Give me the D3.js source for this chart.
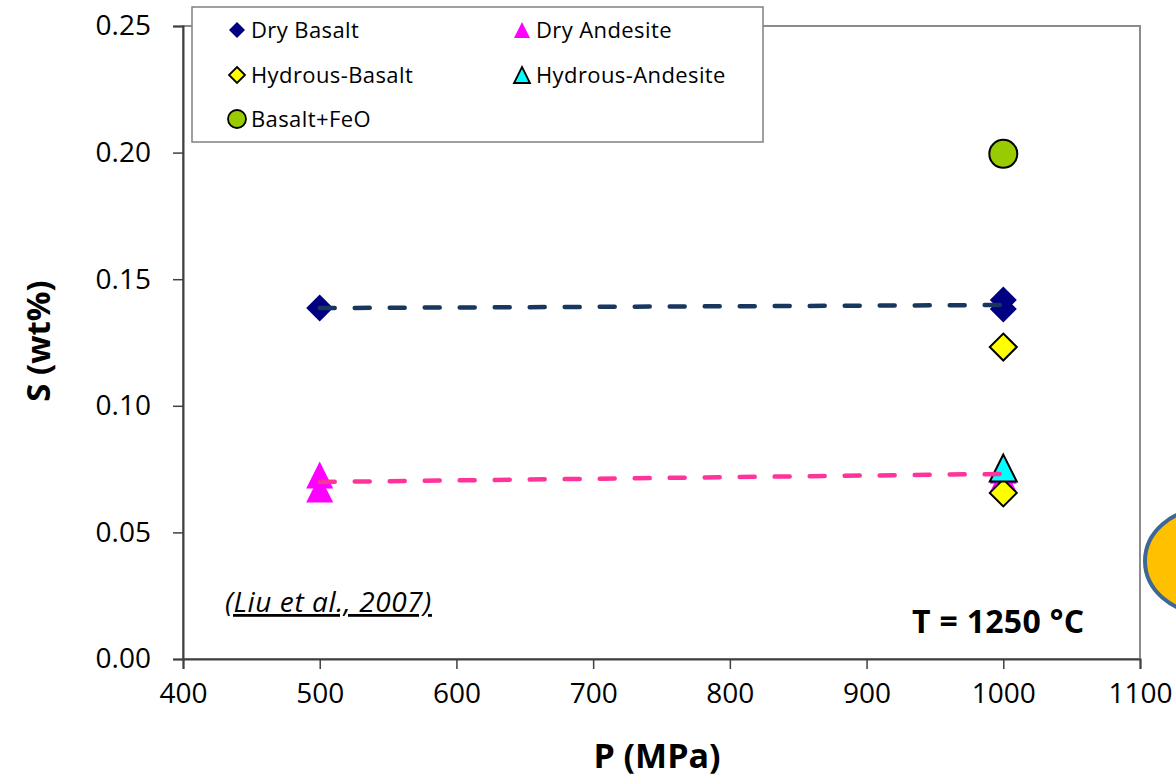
<!DOCTYPE html>
<html>
<head>
<meta charset="utf-8">
<script src="https://cdn.jsdelivr.net/npm/d3@7"></script>
<style>
  html, body { margin: 0; padding: 0; background: #fff; }
  svg { display: block; font-family: "Open Sans", sans-serif; }
</style>
</head>
<body>
<svg id="chart" width="1176" height="778"></svg>
<script>
// data
var xTicks = [400, 500, 600, 700, 800, 900, 1000, 1100];
var yTicks = [0, 0.05, 0.10, 0.15, 0.20, 0.25];

var dryBasaltP = [500, 1000, 1000];
var dryBasaltS = [0.1386, 0.1418, 0.1382];
var dryAndesiteP = [500, 500, 1000, 1000];
var dryAndesiteS = [0.0727, 0.0671, 0.0745, 0.0712];
var hydBasaltP = [1000, 1000];
var hydBasaltS = [0.1232, 0.0656];
var hydAndesiteP = [1000];
var hydAndesiteS = [0.0754];
var feoP = [1000];
var feoS = [0.1995];

// linear trend lines
var trendP = [500, 1000];
var basaltTrendS = [0.1386, 0.1398];
var andesiteTrendS = [0.0699, 0.0731];

var seriesNames = ["Dry Basalt", "Dry Andesite", "Hydrous-Basalt", "Hydrous-Andesite", "Basalt+FeO"];

var svg = d3.select("#chart");

var x = d3.scaleLinear().domain([400, 1100]).range([183, 1140]);
var y = d3.scaleLinear().domain([0, 0.25]).range([659, 26]);

// marker shapes
function markerPath(shape, r) {
  if (shape == "diamond") {
    return "M0," + (-r) + "L" + r + ",0L0," + r + "L" + (-r) + ",0Z";
  }
  if (shape == "triangle") {
    return "M0," + (-r) + "L" + r + "," + r + "L" + (-r) + "," + r + "Z";
  }
  return "M" + (-r) + ",0A" + r + "," + r + " 0 1,0 " + r + ",0A" + r + "," + r + " 0 1,0 " + (-r) + ",0Z";
}

var styles = [
  {shape: "diamond", fill: "#000080", stroke: "none"},
  {shape: "triangle", fill: "#FF00FF", stroke: "none"},
  {shape: "diamond", fill: "#FFFF00", stroke: "#000"},
  {shape: "triangle", fill: "#00FFFF", stroke: "#000"},
  {shape: "circle", fill: "#99CC00", stroke: "#000"}
];

var series = [
  {p: dryBasaltP, s: dryBasaltS},
  {p: dryAndesiteP, s: dryAndesiteS},
  {p: hydBasaltP, s: hydBasaltS},
  {p: hydAndesiteP, s: hydAndesiteS},
  {p: feoP, s: feoS}
];

// orange callout peeking in from the right
svg.append("ellipse")
  .attr("cx", 1205).attr("cy", 561)
  .attr("rx", 60).attr("ry", 52)
  .attr("fill", "#FFC000")
  .attr("stroke", "#3F6796")
  .attr("stroke-width", 4);

// plot frame (top + right)
svg.append("rect")
  .attr("x", x(400)).attr("y", y(0.25))
  .attr("width", x(1100) - x(400))
  .attr("height", y(0) - y(0.25))
  .attr("fill", "none")
  .attr("stroke", "#8c8c8c")
  .attr("stroke-width", 2);

var xAxis = svg.append("g")
  .attr("transform", "translate(0," + y(0) + ")")
  .call(d3.axisBottom(x).tickValues(xTicks).tickSize(10).tickPadding(14).tickFormat(d3.format("d")));

var yAxis = svg.append("g")
  .attr("transform", "translate(" + x(400) + ",0)")
  .call(d3.axisLeft(y).tickValues(yTicks).tickSize(10).tickPadding(22).tickFormat(d3.format(".2f")));

[xAxis, yAxis].forEach(function(a) {
  a.select(".domain").attr("stroke", "#404040").attr("stroke-width", 2);
  a.selectAll(".tick line").attr("stroke", "#404040").attr("stroke-width", 1.5);
  a.selectAll(".tick text")
    .attr("fill", "#000")
    .style("font-family", "Open Sans")
    .style("font-size", "28px");
});

// markers
series.forEach(function(ser, i) {
  var st = styles[i];
  svg.append("g").selectAll("path")
    .data(ser.p.map(function(p, j) { return {p: p, s: ser.s[j]}; }))
    .enter()
    .append("path")
    .attr("transform", function(d) { return "translate(" + x(d.p) + "," + y(d.s) + ")"; })
    .attr("d", markerPath(st.shape, st.shape == "circle" ? 14 : 13.5))
    .attr("fill", st.fill)
    .attr("stroke", st.stroke)
    .attr("stroke-width", 2);
});

// dashed trend lines, drawn on top
var line = d3.line()
  .x(function(d) { return x(d[0]); })
  .y(function(d) { return y(d[1]); });

[[basaltTrendS, "#17375E"], [andesiteTrendS, "#FF3399"]].forEach(function(t) {
  svg.append("path")
    .datum(trendP.map(function(p, j) { return [p, t[0][j]]; }))
    .attr("d", line)
    .attr("fill", "none")
    .attr("stroke", t[1])
    .attr("stroke-width", 4.5)
    .attr("stroke-linecap", "round")
    .attr("stroke-dasharray", "15,20");
});

// legend
var legend = svg.append("g");
legend.append("rect")
  .attr("x", 192).attr("y", 7)
  .attr("width", 571).attr("height", 135)
  .attr("fill", "#fff")
  .attr("stroke", "#808080")
  .attr("stroke-width", 1.5);

var legendPos = [[237, 30], [522, 30], [237, 75], [522, 75], [237, 119]];
seriesNames.forEach(function(name, i) {
  var st = styles[i];
  var g = legend.append("g").attr("transform", "translate(" + legendPos[i][0] + "," + legendPos[i][1] + ")");
  g.append("path")
    .attr("d", markerPath(st.shape, st.shape == "circle" ? 9 : 8))
    .attr("fill", st.fill)
    .attr("stroke", st.stroke)
    .attr("stroke-width", 1.8);
  g.append("text")
    .attr("x", 14).attr("y", 8)
    .style("font-size", "22px")
    .style("letter-spacing", "0.4px")
    .text(name);
});

// axis titles
svg.append("text")
  .attr("x", 657).attr("y", 768)
  .attr("text-anchor", "middle")
  .style("font-size", "34px").style("font-weight", "bold")
  .text("P (MPa)");

svg.append("text")
  .attr("transform", "translate(50,341) rotate(-90)")
  .attr("text-anchor", "middle")
  .style("font-size", "33px").style("font-weight", "bold")
  .text("S (wt%)");

// notes
svg.append("text")
  .attr("x", 225).attr("y", 612)
  .style("font-size", "28px").style("font-style", "italic")
  .style("letter-spacing", "0.6px")
  .style("text-decoration", "underline")
  .text("(Liu et al., 2007)");

svg.append("text")
  .attr("x", 912).attr("y", 633)
  .style("font-size", "32px").style("font-weight", "bold")
  .style("letter-spacing", "0.3px")
  .text("T = 1250 °C");
</script>
</body>
</html>
